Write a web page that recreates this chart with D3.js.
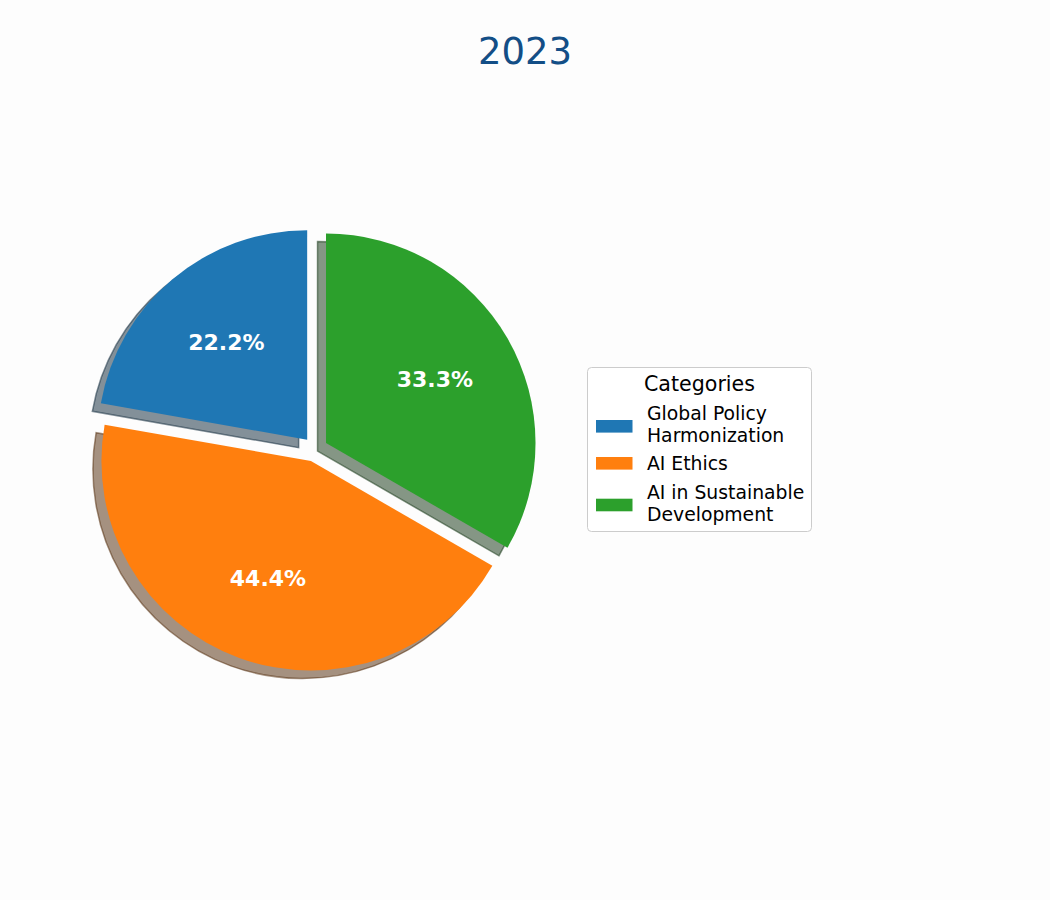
<!DOCTYPE html>
<html>
<head>
<meta charset="utf-8">
<script src="https://cdn.jsdelivr.net/npm/d3@7"></script>
<style>
  html, body { margin: 0; padding: 0; background: #fdfdfd; }
  svg { display: block; }
  text { font-family: "DejaVu Sans", sans-serif; }
</style>
</head>
<body>
<div id="chart"></div>
<script>
const title = "2023";
const categories = ["Global Policy Harmonization", "AI Ethics", "AI in Sustainable Development"];
const legendLines = [["Global Policy", "Harmonization"], ["AI Ethics"], ["AI in Sustainable", "Development"]];
const values = [20, 40, 30];
const colors = ["#1f77b4", "#ff7f0e", "#2ca02c"];
const legendTitle = "Categories";

const W = 1050, H = 900;
const svg = d3.select("#chart").append("svg").attr("width", W).attr("height", H);
svg.append("rect").attr("width", W).attr("height", H).attr("fill", "#fdfdfd");

const cx = 315.2, cy = 449.3, R = 209.5;
const explode = 12.5;
const shadowDx = -8.5, shadowDy = 8;

const pie = d3.pie().sort(null).value(d => d).startAngle(0).endAngle(-2 * Math.PI);
const arcs = pie(values);
const arc = d3.arc().innerRadius(0).outerRadius(R);

function offset(d) {
  const mid = (d.startAngle + d.endAngle) / 2;
  return [explode * Math.sin(mid), -explode * Math.cos(mid)];
}
function shade(c) {
  const rgb = d3.rgb(c);
  return d3.rgb(rgb.r * 0.3, rgb.g * 0.3, rgb.b * 0.3).toString();
}

const g = svg.append("g").attr("transform", `translate(${cx},${cy})`);

// shadows
g.selectAll("path.shadow").data(arcs).enter().append("path")
  .attr("class", "shadow")
  .attr("d", arc)
  .attr("transform", d => { const o = offset(d); return `translate(${o[0] + shadowDx},${o[1] + shadowDy})`; })
  .attr("fill", (d, i) => shade(colors[i]))
  .attr("fill-opacity", 0.5)
  .attr("stroke", (d, i) => shade(colors[i]))
  .attr("stroke-opacity", 0.5)
  .attr("stroke-width", 1.5)
  .attr("stroke-linejoin", "miter");

// wedges
g.selectAll("path.wedge").data(arcs).enter().append("path")
  .attr("class", "wedge")
  .attr("d", arc)
  .attr("transform", d => { const o = offset(d); return `translate(${o[0]},${o[1]})`; })
  .attr("fill", (d, i) => colors[i]);

// percentage labels
const total = d3.sum(values);
const labelArc = d3.arc().innerRadius(R * 0.6).outerRadius(R * 0.6);
g.selectAll("text.pct").data(arcs).enter().append("text")
  .attr("class", "pct")
  .attr("x", d => offset(d)[0] + labelArc.centroid(d)[0])
  .attr("y", d => offset(d)[1] + labelArc.centroid(d)[1])
  .attr("dy", "0.3em")
  .attr("text-anchor", "middle")
  .attr("fill", "#ffffff")
  .attr("font-weight", "bold")
  .attr("font-size", "22px")
  .text(d => (d.value / total * 100).toFixed(1) + "%");

// title
svg.append("text")
  .attr("x", 525).attr("y", 64)
  .attr("text-anchor", "middle")
  .attr("font-size", "37px")
  .attr("fill", "#134e86")
  .text(title);

// legend
const lg = svg.append("g");
lg.append("rect")
  .attr("x", 587.5).attr("y", 367.5)
  .attr("width", 224).attr("height", 164)
  .attr("rx", 4).attr("ry", 4)
  .attr("fill", "#ffffff").attr("fill-opacity", 0.8)
  .attr("stroke", "#cccccc").attr("stroke-width", 1);
lg.append("text")
  .attr("x", 699.5).attr("y", 390.5)
  .attr("text-anchor", "middle")
  .attr("font-size", "20.6px")
  .attr("fill", "#000000")
  .text(legendTitle);

const patchY = [426.3, 463.3, 505];
const firstBaselines = [420, 469.8, 499];
categories.forEach((c, i) => {
  lg.append("rect")
    .attr("x", 596).attr("y", patchY[i] - 6.3)
    .attr("width", 36.5).attr("height", 12.6)
    .attr("fill", colors[i]);
  const t = lg.append("text")
    .attr("x", 647).attr("y", firstBaselines[i])
    .attr("font-size", "18.8px")
    .attr("fill", "#000000");
  legendLines[i].forEach((line, j) => {
    t.append("tspan").attr("x", 647).attr("dy", j === 0 ? 0 : 21.7).text(line);
  });
});
</script>
</body>
</html>
